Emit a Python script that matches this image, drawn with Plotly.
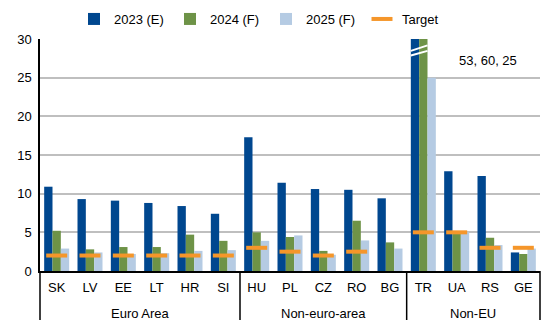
import plotly.graph_objects as go

# Inflation: estimates, forecasts and central bank targets (%)
group_names = ["Euro Area", "Non-euro-area", "Non-EU"]
group_sizes = [6, 5, 4]
countries = ["SK", "LV", "EE", "LT", "HR", "SI",
             "HU", "PL", "CZ", "RO", "BG",
             "TR", "UA", "RS", "GE"]

infl_2023 = [10.9, 9.3, 9.1, 8.8, 8.4, 7.4, 17.3, 11.4, 10.6, 10.5, 9.4, 53, 12.9, 12.3, 2.4]
infl_2024 = [5.2, 2.8, 3.1, 3.1, 4.7, 3.9, 5.0, 4.4, 2.6, 6.5, 3.7, 60, 5.0, 4.3, 2.2]
infl_2025 = [2.9, 2.4, 2.2, 2.3, 2.6, 2.7, 3.9, 4.6, 2.1, 3.95, 2.9, 25, 5.0, 3.35, 2.9]
target = [2, 2, 2, 2, 2, 2, 3, 2.5, 2, 2.5, None, 5, 5, 3, 3]

series_names = ["2023 (E)", "2024 (F)", "2025 (F)"]
series_colors = ["#00478F", "#6E9347", "#B5CBE3"]
target_color = "#F5962A"

Y_MAX = 30
BARGAP = 0.25
PLOT_H = 232          # plot-area height in px (331 - top 39 - bottom 60)
LABEL_DROP = 49       # px the group dividers reach below the x axis

fig = go.Figure()
for name, vals, col in zip(series_names, [infl_2023, infl_2024, infl_2025], series_colors):
    fig.add_trace(go.Bar(
        x=countries, y=vals, name=name, marker=dict(color=col, line=dict(width=0)),
    ))

fig.add_trace(go.Scatter(
    x=countries, y=target, name="Target", mode="markers",
    marker=dict(symbol="line-ew", size=15, color=target_color,
                line=dict(color=target_color, width=4)),
))

n = len(countries)
def to_paper(v):
    return (v + 0.5) / n

# Group dividers below the axis and group titles
bounds = [0]
for s in group_sizes:
    bounds.append(bounds[-1] + s)
div_y = -LABEL_DROP / PLOT_H
for b in bounds:
    fig.add_shape(type="line", xref="paper", yref="paper",
                  x0=b / n, x1=b / n, y0=0, y1=div_y,
                  line=dict(color="#000000", width=1.5))
for name, a, b in zip(group_names, bounds[:-1], bounds[1:]):
    fig.add_annotation(xref="paper", yref="paper", x=(a + b) / 2 / n, y=-42 / PLOT_H,
                       text=name, showarrow=False, xanchor="center", yanchor="middle",
                       font=dict(size=13, color="#000000"))

# Axis-break marks on the TR bars that run off the scale
tr = countries.index("TR")
bar_w = (1 - BARGAP) / 3
x0 = to_paper(tr - 1.5 * bar_w)
x1 = to_paper(tr + 0.5 * bar_w)
for ya, yb in [(28.46, 29.17), (27.86, 28.46)]:
    fig.add_shape(type="line", xref="paper", yref="y", layer="above",
                  x0=x0, x1=x1, y0=ya, y1=yb,
                  line=dict(color="white", width=2))

# Off-scale values for TR
fig.add_annotation(
    xref="paper", yref="y", x=to_paper(12.95), y=27.2,
    text=", ".join(str(v) for v in (infl_2023[tr], infl_2024[tr], infl_2025[tr])),
    showarrow=False, xanchor="center", yanchor="middle",
    font=dict(size=13, color="#000000"),
)

fig.update_layout(
    width=550, height=331,
    margin=dict(l=40, r=10, t=39, b=60),
    paper_bgcolor="white", plot_bgcolor="white",
    font=dict(family="Liberation Sans, Arial, sans-serif", size=13, color="#000000"),
    barmode="group", bargap=BARGAP, bargroupgap=0,
    showlegend=True,
    legend=dict(orientation="h", x=0.452, xanchor="center",
                yref="container", y=1 - 19 / 331, yanchor="middle",
                font=dict(size=13), entrywidth=51, itemwidth=30,
                bgcolor="rgba(0,0,0,0)"),
    xaxis=dict(
        type="category", range=[-0.5, n - 0.5],
        showline=True, linecolor="#000000", linewidth=1.5,
        ticks="", tickfont=dict(size=13), automargin=False,
        ticklabelstandoff=4,
    ),
    yaxis=dict(
        range=[0, Y_MAX], dtick=5, showgrid=True, gridcolor="#BFBFBF", gridwidth=1.5,
        showline=True, linecolor="#000000", linewidth=1.5,
        ticks="", tickfont=dict(size=13), zeroline=False, automargin=False,
        ticklabelstandoff=4,
    ),
)

fig.write_html("out.html")
